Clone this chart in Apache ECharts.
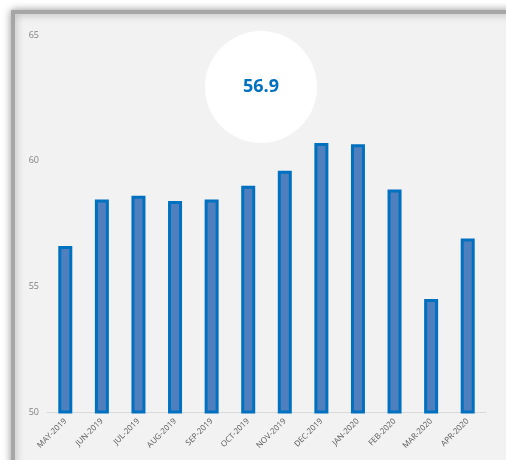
<!DOCTYPE html>
<html>
<head>
<meta charset="utf-8">
<script src="https://cdn.jsdelivr.net/npm/echarts@6/dist/echarts.min.js"></script>
<style>
  html, body { margin: 0; padding: 0; background: #ffffff; }
  #chart { width: 506px; height: 460px; }
</style>
</head>
<body>
<div id="chart"></div>
<script>
// Monthly index values, May 2019 – Apr 2020
const months = ['MAY-2019', 'JUN-2019', 'JUL-2019', 'AUG-2019', 'SEP-2019', 'OCT-2019',
                'NOV-2019', 'DEC-2019', 'JAN-2020', 'FEB-2020', 'MAR-2020', 'APR-2020'];
const values = [56.6, 58.45, 58.6, 58.4, 58.45, 59.0, 59.6, 60.7, 60.65, 58.85, 54.5, 56.9];
const yTicks = { min: 50, max: 65, step: 5 };

// Latest reading shown in the badge
const latest = values[values.length - 1];

const chart = echarts.init(document.getElementById('chart'), null, { renderer: 'canvas' });

chart.setOption({
  animation: false,
  backgroundColor: 'transparent',
  grid: { left: 47, right: 20, top: 35, bottom: 48 },
  graphic: [
    {
      // panel with a soft frame on the top and left
      type: 'rect',
      z: -10,
      silent: true,
      shape: { x: 13, y: 12, width: 620, height: 620 },
      style: {
        fill: '#f2f2f2',
        stroke: '#a6a6a6',
        lineWidth: 4,
        shadowBlur: 8,
        shadowColor: 'rgba(0,0,0,0.35)'
      }
    },
    {
      type: 'circle',
      z: 5,
      silent: true,
      shape: { cx: 261, cy: 87, r: 56 },
      style: { fill: '#ffffff' }
    },
    {
      type: 'text',
      z: 6,
      silent: true,
      x: 261,
      y: 87,
      style: {
        text: latest.toFixed(1),
        fill: '#0070c0',
        font: 'bold 18px "Open Sans", sans-serif',
        align: 'center',
        verticalAlign: 'middle'
      }
    }
  ],
  xAxis: {
    type: 'category',
    data: months,
    axisLine: { show: true, lineStyle: { color: '#d9d9d9', width: 1 } },
    axisTick: { show: false },
    axisLabel: {
      rotate: 45,
      interval: 0,
      margin: 8,
      color: '#595959',
      fontSize: 8,
      fontFamily: '"Open Sans", sans-serif'
    }
  },
  yAxis: {
    type: 'value',
    min: yTicks.min,
    max: yTicks.max,
    interval: yTicks.step,
    axisLine: { show: false },
    axisTick: { show: false },
    splitLine: { show: false },
    axisLabel: {
      margin: 8,
      color: '#808080',
      fontSize: 9,
      fontFamily: '"Open Sans", sans-serif'
    }
  },
  series: [{
    type: 'bar',
    data: values,
    barWidth: 14,
    itemStyle: {
      color: '#4f80bd',
      borderColor: '#0070c0',
      borderWidth: 3
    }
  }]
});
</script>
</body>
</html>
